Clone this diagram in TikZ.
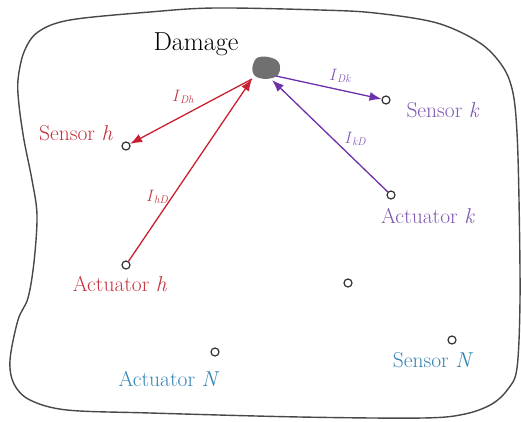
\documentclass[tikz,border=0pt]{standalone}
\usetikzlibrary{arrows.meta}
\definecolor{redline}{RGB}{200,32,48}
\definecolor{redtext}{RGB}{196,52,64}
\definecolor{purpline}{RGB}{108,48,172}
\definecolor{purptext}{RGB}{128,88,178}
\definecolor{bluetext}{RGB}{52,132,180}
\definecolor{outline}{RGB}{72,72,72}
\definecolor{blob}{RGB}{112,112,112}
\tikzset{
  port/.style={circle,draw=black!80,fill=white,line width=1.2pt,minimum size=8pt,inner sep=0pt},
  lbl/.style={font=\fontsize{21.5}{24}\selectfont,inner sep=0pt},
  sublbl/.style={font=\fontsize{16.5}{18}\selectfont,inner sep=0pt},
  redarrow/.style={draw=redline,line width=1.3pt,-{Latex[length=12pt,width=9pt]}},
  purparrow/.style={draw=purpline,line width=1.3pt,-{Latex[length=12pt,width=9pt]}},
}
\newcommand{\intens}[1]{\textit{I}\raisebox{-0.35ex}{\fontsize{11}{12}\selectfont\textit{#1}}}
\begin{document}
\begin{tikzpicture}[x=1pt,y=-1pt]
\useasboundingbox (0,0) rectangle (521,422);
% plate outline
\draw[outline,line width=1.4pt] plot[smooth cycle,tension=0.55] coordinates {
  (150,12) (215,8) (320,10) (375,13) (437,23) (480,43) (503,67) (513,93)
  (517,133) (519,200) (520,300) (517,368) (508,389) (492,404) (465,414)
  (423,418) (300,417) (150,413) (67,410) (30,400) (14,384) (10,360)
  (18,320) (28,298) (34,262) (37,215) (32,180) (24,140) (19,105)
  (18,80) (24,52) (38,32) (70,20)};
% damage
\fill[blob] (254,62) .. controls (256,55) and (266,56) .. (272,58)
  .. controls (281,60) and (282,70) .. (278,75)
  .. controls (273,80) and (260,80) .. (255,76)
  .. controls (251,72) and (252,66) .. (254,62) -- cycle;
\node[lbl,font=\fontsize{26}{29}\selectfont] (dmglbl) at (196,44) {Damage};
\coordinate (dR) at (252,79);
\coordinate (dP) at (276,76);
\coordinate (dP2) at (272,80);
% transducers
\node[port] (sh) at (126,146) {};
\node[port] (ah) at (126,265) {};
\node[port] (sk) at (386,100) {};
\node[port] (ak) at (391,195) {};
\node[port] (ax) at (348,283) {};
\node[port] (aN) at (215,352) {};
\node[port] (sN) at (452,340) {};
% labels
\node[lbl,text=redtext] (shl) at (76,133) {Sensor \textit{h}};
\node[lbl,text=redtext] (ahl) at (120,284) {Actuator \textit{h}};
\node[lbl,text=purptext] (skl) at (443,110) {Sensor \textit{k}};
\node[lbl,text=purptext] (akl) at (428,216) {Actuator \textit{k}};
\node[lbl,text=bluetext] (aNl) at (169,379) {Actuator \textit{N}};
\node[lbl,text=bluetext] (sNl) at (433,360) {Sensor \textit{N}};
% wave paths
\draw[redarrow] (dR) -- (sh);
\draw[redarrow] (ah) -- (dR);
\draw[purparrow] (dP) -- (sk);
\draw[purparrow] (ak) -- (dP2);
\node[sublbl,text=redtext] (idh) at (183,97) {\intens{Dh}};
\node[sublbl,text=redtext] (ihd) at (157,197) {\intens{hD}};
\node[sublbl,text=purptext] (idk) at (340,76) {\intens{Dk}};
\node[sublbl,text=purptext] (ikd) at (355,139) {\intens{kD}};
\end{tikzpicture}
\end{document}
